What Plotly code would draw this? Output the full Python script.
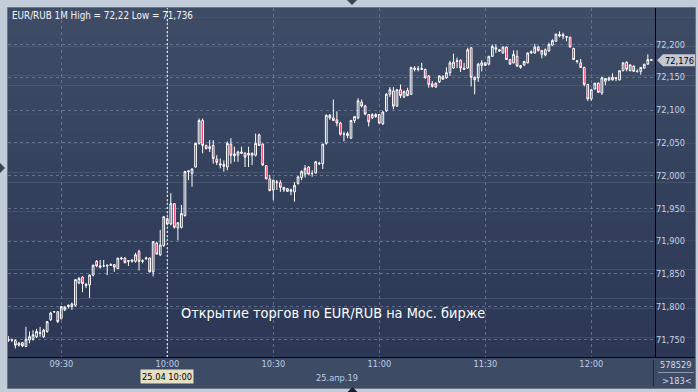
import plotly.graph_objects as go
import pandas as pd

# ---------------- data ----------------
start_time = "2019-04-25 09:15"

opens = [
    71.748, 71.749, 71.748, 71.741, 71.745, 71.739, 71.749, 71.750, 71.754, 71.759,
    71.754, 71.762, 71.780, 71.792, 71.792, 71.782, 71.795, 71.800, 71.800, 71.802,
    71.836, 71.845, 71.834, 71.833, 71.848, 71.869, 71.860, 71.862, 71.862, 71.863,
    71.864, 71.858, 71.873, 71.874, 71.869, 71.869, 71.869, 71.884, 71.869, 71.873,
    71.874, 71.853, 71.897, 71.879, 71.893, 71.934, 71.926, 71.957, 71.920, 71.921,
    71.939, 72.006, 72.003, 72.013, 72.049, 72.084, 72.046, 72.041, 72.046, 72.025,
    72.018, 72.017, 72.013, 72.048, 72.033, 72.031, 72.036, 72.034, 72.031, 72.031,
    72.031, 72.062, 72.048, 72.015, 71.995, 71.978, 71.989, 71.989, 71.978, 71.980,
    71.976, 71.975, 71.988, 71.997, 72.002, 72.013, 72.003, 72.004, 72.019, 72.018,
    72.049, 72.092, 72.088, 72.085, 72.080, 72.063, 72.064, 72.057, 72.084, 72.088,
    72.112, 72.106, 72.093, 72.088, 72.093, 72.093, 72.079, 72.099, 72.124, 72.129,
    72.106, 72.131, 72.120, 72.130, 72.124, 72.164, 72.162, 72.162, 72.162, 72.152,
    72.140, 72.135, 72.143, 72.151, 72.149, 72.157, 72.164, 72.174, 72.176, 72.164,
    72.164, 72.195, 72.150, 72.149, 72.168, 72.172, 72.170, 72.182, 72.195, 72.192,
    72.187, 72.196, 72.177, 72.172, 72.182, 72.165, 72.169, 72.172, 72.187, 72.187,
    72.196, 72.185, 72.192, 72.190, 72.199, 72.205, 72.213, 72.215, 72.211, 72.211,
    72.194, 72.174, 72.172, 72.165, 72.139, 72.117, 72.132, 72.141, 72.126, 72.144,
    72.146, 72.150, 72.148, 72.146, 72.160, 72.173, 72.160, 72.167, 72.159, 72.159,
    72.164, 72.170, 72.177,
]

highs = [
    71.755, 71.751, 71.750, 71.746, 71.746, 71.769, 71.762, 71.764, 71.766, 71.769,
    71.766, 71.778, 71.792, 71.793, 71.793, 71.800, 71.801, 71.803, 71.806, 71.842,
    71.845, 71.846, 71.836, 71.849, 71.864, 71.871, 71.871, 71.871, 71.864, 71.866,
    71.865, 71.874, 71.876, 71.875, 71.871, 71.872, 71.882, 71.887, 71.872, 71.876,
    71.875, 71.899, 71.899, 71.917, 71.938, 71.936, 71.973, 71.958, 71.928, 71.955,
    72.007, 72.008, 72.011, 72.050, 72.087, 72.087, 72.047, 72.054, 72.054, 72.031,
    72.026, 72.023, 72.052, 72.057, 72.044, 72.038, 72.044, 72.036, 72.044, 72.035,
    72.064, 72.064, 72.049, 72.016, 72.001, 71.993, 71.993, 71.993, 71.982, 71.981,
    71.980, 71.990, 71.999, 72.008, 72.016, 72.014, 72.008, 72.022, 72.021, 72.048,
    72.093, 72.094, 72.116, 72.098, 72.082, 72.067, 72.067, 72.085, 72.090, 72.118,
    72.116, 72.108, 72.094, 72.095, 72.095, 72.094, 72.098, 72.126, 72.135, 72.135,
    72.131, 72.139, 72.130, 72.134, 72.166, 72.167, 72.167, 72.172, 72.163, 72.153,
    72.144, 72.142, 72.153, 72.153, 72.165, 72.175, 72.186, 72.180, 72.177, 72.172,
    72.195, 72.196, 72.151, 72.172, 72.176, 72.173, 72.182, 72.200, 72.200, 72.193,
    72.197, 72.197, 72.178, 72.191, 72.191, 72.168, 72.175, 72.188, 72.191, 72.201,
    72.198, 72.191, 72.194, 72.203, 72.208, 72.216, 72.220, 72.218, 72.213, 72.212,
    72.195, 72.176, 72.178, 72.166, 72.140, 72.131, 72.141, 72.142, 72.151, 72.148,
    72.151, 72.156, 72.150, 72.160, 72.172, 72.174, 72.169, 72.168, 72.162, 72.165,
    72.170, 72.185, 72.178,
]

lows = [
    71.746, 71.746, 71.736, 71.739, 71.738, 71.738, 71.744, 71.748, 71.752, 71.754,
    71.752, 71.760, 71.778, 71.791, 71.775, 71.780, 71.793, 71.797, 71.795, 71.800,
    71.834, 71.822, 71.828, 71.813, 71.846, 71.860, 71.858, 71.860, 71.848, 71.862,
    71.853, 71.857, 71.871, 71.866, 71.862, 71.867, 71.867, 71.855, 71.866, 71.871,
    71.852, 71.846, 71.880, 71.877, 71.891, 71.925, 71.924, 71.919, 71.901, 71.919,
    71.937, 71.993, 71.983, 72.012, 72.047, 72.034, 72.040, 72.036, 72.018, 72.016,
    72.011, 72.006, 72.008, 72.018, 72.021, 72.021, 72.033, 72.013, 72.013, 72.016,
    72.029, 72.045, 72.015, 71.994, 71.976, 71.962, 71.978, 71.975, 71.975, 71.975,
    71.970, 71.960, 71.986, 71.993, 71.997, 72.002, 71.998, 72.003, 72.016, 72.010,
    72.047, 72.085, 72.083, 72.075, 72.061, 72.052, 72.057, 72.056, 72.080, 72.086,
    72.104, 72.092, 72.075, 72.086, 72.088, 72.079, 72.077, 72.097, 72.120, 72.101,
    72.105, 72.118, 72.118, 72.121, 72.123, 72.159, 72.159, 72.161, 72.148, 72.134,
    72.134, 72.134, 72.141, 72.146, 72.148, 72.152, 72.163, 72.164, 72.158, 72.162,
    72.163, 72.136, 72.124, 72.143, 72.159, 72.168, 72.168, 72.181, 72.187, 72.189,
    72.186, 72.177, 72.169, 72.171, 72.166, 72.163, 72.167, 72.171, 72.186, 72.186,
    72.189, 72.179, 72.182, 72.189, 72.198, 72.204, 72.211, 72.208, 72.205, 72.196,
    72.177, 72.171, 72.164, 72.136, 72.114, 72.114, 72.131, 72.127, 72.123, 72.138,
    72.144, 72.145, 72.144, 72.145, 72.159, 72.159, 72.159, 72.159, 72.157, 72.154,
    72.163, 72.169, 72.175,
]

closes = [
    71.750, 71.749, 71.741, 71.744, 71.740, 71.750, 71.754, 71.757, 71.762, 71.760,
    71.764, 71.777, 71.790, 71.792, 71.777, 71.800, 71.799, 71.802, 71.804, 71.841,
    71.843, 71.835, 71.832, 71.848, 71.863, 71.862, 71.862, 71.862, 71.863, 71.864,
    71.860, 71.874, 71.874, 71.867, 71.870, 71.871, 71.879, 71.869, 71.870, 71.874,
    71.853, 71.899, 71.880, 71.894, 71.937, 71.926, 71.957, 71.921, 71.928, 71.942,
    72.006, 72.007, 72.010, 72.049, 72.084, 72.046, 72.041, 72.044, 72.026, 72.020,
    72.016, 72.014, 72.049, 72.031, 72.030, 72.036, 72.034, 72.028, 72.034, 72.034,
    72.049, 72.046, 72.016, 71.995, 71.977, 71.993, 71.990, 71.982, 71.982, 71.976,
    71.978, 71.985, 71.998, 72.006, 72.011, 72.002, 72.003, 72.021, 72.018, 72.048,
    72.092, 72.088, 72.084, 72.080, 72.063, 72.063, 72.061, 72.084, 72.090, 72.114,
    72.106, 72.094, 72.082, 72.093, 72.090, 72.080, 72.097, 72.124, 72.131, 72.106,
    72.131, 72.122, 72.128, 72.122, 72.165, 72.162, 72.163, 72.163, 72.149, 72.139,
    72.136, 72.141, 72.152, 72.147, 72.157, 72.172, 72.173, 72.175, 72.164, 72.162,
    72.192, 72.150, 72.146, 72.170, 72.172, 72.168, 72.182, 72.197, 72.193, 72.190,
    72.196, 72.177, 72.170, 72.185, 72.167, 72.168, 72.174, 72.187, 72.189, 72.196,
    72.191, 72.191, 72.184, 72.200, 72.206, 72.216, 72.215, 72.213, 72.212, 72.196,
    72.177, 72.175, 72.165, 72.139, 72.117, 72.131, 72.141, 72.127, 72.149, 72.148,
    72.149, 72.146, 72.149, 72.160, 72.172, 72.162, 72.169, 72.159, 72.159, 72.165,
    72.170, 72.177, 72.176,
]

times = pd.date_range(start_time, periods=len(opens), freq="1min")

x_tick_vals = ["2019-04-25 09:30", "2019-04-25 10:00", "2019-04-25 10:30",
               "2019-04-25 11:00", "2019-04-25 11:30", "2019-04-25 12:00"]
x_tick_text = ["09:30", "10:00", "10:30", "11:00", "11:30", "12:00"]
y_tick_vals = [71.75, 71.80, 71.85, 71.90, 71.95, 72.00, 72.05, 72.10, 72.15, 72.20]
y_tick_text = ["71,750", "71,800", "71,850", "71,900", "71,950",
               "72,000", "72,050", "72,100", "72,150", "72,200"]
x_range = ["2019-04-25 09:14:55", "2019-04-25 12:18:02"]
y_range = [71.7230, 72.2557]

title_text = "EUR/RUB 1M High = 72,22 Low = 71,736"
note_text = "Открытие торгов по EUR/RUB на Мос. бирже"
cursor_time = "2019-04-25 10:00"
cursor_label = "25.04 10:00"
date_label = "25.апр.19"
last_price_label = "72,176"
volume_label = "578529"
count_label = ">183<"

# ---------------- layout helpers ----------------
W, H = 698, 392
L, R, T, B = 8, 655, 8, 357


def px(x):
    return (x - L) / (R - L)


def py(y):
    return (B - y) / (B - T)


FONT = "DejaVu Sans Condensed, Liberation Sans, Arial, sans-serif"
FS = 9.2
TICK_COLOR = "#bccde8"

fig = go.Figure()
fig.add_trace(go.Candlestick(
    x=times, open=opens, high=highs, low=lows, close=closes,
    increasing=dict(line=dict(color="#ffffff", width=1), fillcolor="rgba(0,0,0,0)"),
    decreasing=dict(line=dict(color="#ffffff", width=1), fillcolor="#e6103c"),
    whiskerwidth=0, hoverinfo="skip", showlegend=False,
))

shapes = []
# gradient background for plot + right panel
N = 36
top_c = (62, 76, 102)
bot_c = (43, 55, 85)
for k in range(N):
    y0 = T + k * (B - T) / N
    y1 = T + (k + 1) * (B - T) / N
    f = (k + 0.5) / N
    c = tuple(round(top_c[i] + (bot_c[i] - top_c[i]) * f) for i in range(3))
    shapes.append(dict(type="rect", xref="paper", yref="paper",
                       x0=px(8), x1=px(695), y0=py(y1), y1=py(y0) + 0.001,
                       fillcolor="rgb(%d,%d,%d)" % c, line=dict(width=0), layer="below"))
# bottom strip
shapes.append(dict(type="rect", xref="paper", yref="paper",
                   x0=px(8), x1=px(695), y0=py(388), y1=py(357),
                   fillcolor="#3e4b65", line=dict(width=0), layer="below"))
# frame
shapes.append(dict(type="rect", xref="paper", yref="paper",
                   x0=px(7.5), x1=px(695.5), y0=py(388.5), y1=py(7.5),
                   line=dict(color="#6b7586", width=1), fillcolor="rgba(0,0,0,0)"))
# black axis lines
shapes.append(dict(type="line", xref="paper", yref="paper",
                   x0=px(8), x1=px(695), y0=py(357.5), y1=py(357.5),
                   line=dict(color="#000000", width=1)))
shapes.append(dict(type="line", xref="paper", yref="paper",
                   x0=px(655.5), x1=px(655.5), y0=py(357), y1=py(8),
                   line=dict(color="#000000", width=1)))
# bottom separator & line under volume
shapes.append(dict(type="line", xref="paper", yref="paper",
                   x0=px(653.5), x1=px(653.5), y0=py(386), y1=py(360),
                   line=dict(color="#1e2536", width=1)))
shapes.append(dict(type="line", xref="paper", yref="paper",
                   x0=px(658), x1=px(694), y0=py(372.5), y1=py(372.5),
                   line=dict(color="#8b98ae", width=1)))
# crosshair
shapes.append(dict(type="line", xref="x", yref="paper",
                   x0=cursor_time, x1=cursor_time, y0=0, y1=1,
                   line=dict(color="#ffffff", width=1, dash="2px,2px")))
# last price marker
shapes.append(dict(type="path", xref="paper", yref="y",
                   xsizemode="pixel", ysizemode="pixel",
                   xanchor=1, yanchor=closes[-1],
                   path="M 2,0 L 8,6 L 40,6 L 40,-6 L 8,-6 Z",
                   fillcolor="#c4c8d0", line=dict(width=0)))


# small decorative triangles
def tri(pts, color):
    p = "M %f,%f L %f,%f L %f,%f Z" % (px(pts[0][0]), py(pts[0][1]),
                                       px(pts[1][0]), py(pts[1][1]),
                                       px(pts[2][0]), py(pts[2][1]))
    return dict(type="path", xref="paper", yref="paper", path=p,
                fillcolor=color, line=dict(width=0))


shapes.append(tri([(347, 0), (357, 0), (352, 5)], "#3a4252"))
shapes.append(tri([(347.5, 392), (357.5, 392), (352.5, 387)], "#1a1f2a"))
shapes.append(tri([(0, 163), (0, 173), (5, 168)], "#3a4252"))

annotations = [
    dict(text=title_text, xref="paper", yref="paper", x=px(9.5), y=py(15.5),
         xanchor="left", yanchor="middle", showarrow=False,
         font=dict(family=FONT, size=9.8, color="#f2f5fa")),
    dict(text=note_text, xref="paper", yref="paper", x=px(179), y=py(313),
         xanchor="left", yanchor="middle", showarrow=False,
         font=dict(family=FONT, size=14.4, color="#ffffff")),
    dict(text=cursor_label, xref="x", yref="paper", x=cursor_time, y=py(376),
         xanchor="center", yanchor="middle", showarrow=False,
         bgcolor="#e4e0c6", borderpad=1,
         font=dict(family=FONT, size=FS, color="#000000")),
    dict(text=date_label, xref="paper", yref="paper", x=px(337), y=py(377),
         xanchor="center", yanchor="middle", showarrow=False,
         font=dict(family=FONT, size=FS, color=TICK_COLOR)),
    dict(text=volume_label, xref="paper", yref="paper", x=px(676), y=py(364),
         xanchor="center", yanchor="middle", showarrow=False,
         font=dict(family=FONT, size=FS, color="#d4dcea")),
    dict(text=count_label, xref="paper", yref="paper", x=px(677), y=py(380.5),
         xanchor="center", yanchor="middle", showarrow=False,
         font=dict(family=FONT, size=FS, color="#d4dcea")),
    dict(text=last_price_label, xref="paper", yref="y", x=px(679), y=closes[-1],
         xanchor="center", yanchor="middle", showarrow=False,
         font=dict(family=FONT, size=FS, color="#000000")),
]

fig.update_layout(
    width=W, height=H,
    margin=dict(l=L, r=W - R, t=T, b=H - B, pad=0),
    paper_bgcolor="#c3ccd9",
    plot_bgcolor="rgba(0,0,0,0)",
    showlegend=False,
    hovermode=False,
    shapes=shapes,
    annotations=annotations,
    font=dict(family=FONT, size=FS, color=TICK_COLOR),
    xaxis=dict(
        type="date", range=x_range, rangeslider=dict(visible=False),
        tickvals=x_tick_vals, ticktext=x_tick_text,
        showgrid=True, gridcolor="rgba(112,130,162,0.75)", griddash="3px,3px", gridwidth=1,
        showline=False, zeroline=False, ticks="",
        tickfont=dict(family=FONT, size=FS, color=TICK_COLOR),
        fixedrange=True,
    ),
    yaxis=dict(
        side="right", range=y_range,
        tickvals=y_tick_vals, ticktext=y_tick_text,
        showgrid=True, gridcolor="rgba(112,130,162,0.75)", griddash="3px,3px", gridwidth=1,
        showline=False, zeroline=False, ticks="",
        tickfont=dict(family=FONT, size=FS, color="#c8d3e4"),
        fixedrange=True,
    ),
)

fig.write_html("out.html", config={"displayModeBar": False})
